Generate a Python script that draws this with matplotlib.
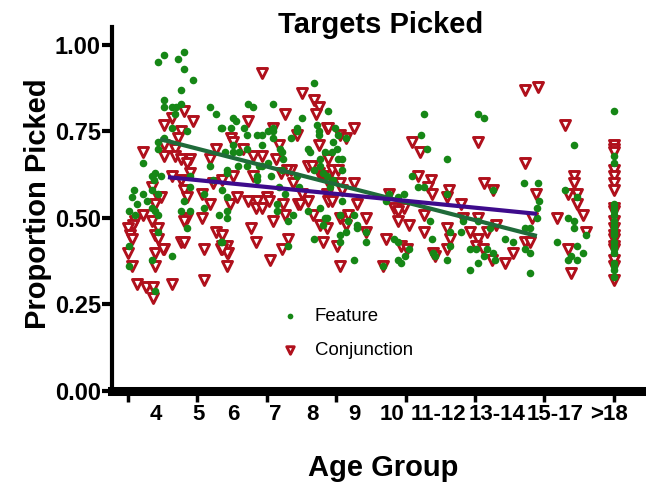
import matplotlib.pyplot as plt
import numpy as np

plt.rcParams['font.family'] = 'Liberation Sans'

# age (x, continuous) and proportion picked (y)
feat_age = [4.16, 4.01, 4.51, 4.66, 4.66, 4.89, 4.59, 4.16, 4.16, 4.36, 4.46, 4.59, 4.44, 4.36, 4.74,
            4.16, 4.01, 4.01, 3.63, 3.93, 3.86, 4.08, 3.91, 4.81, 4.81, 3.40, 3.35, 3.63, 3.73, 3.48,
            3.86, 4.01, 3.28, 3.43, 3.86, 3.93, 4.01, 4.66, 4.59, 4.81, 4.74, 4.01, 3.28, 3.86, 3.28,
            4.36, 3.93, 5.32, 5.47, 5.60, 5.32, 5.39, 5.17, 5.17, 5.54, 5.60,
            7.94, 6.91, 6.28, 6.40, 5.90, 5.97, 5.62, 5.85, 6.17, 6.91, 6.91, 6.50, 6.63, 6.25, 6.78,
            6.91, 7.51, 7.51, 7.36, 7.64, 8.02, 8.07, 8.07, 6.63, 5.90, 5.90, 5.70, 6.05, 6.25, 7.08,
            7.13, 7.79, 7.84, 7.16, 8.09, 8.22, 5.75, 5.75, 6.02, 6.25, 6.55, 6.63, 6.78, 7.13, 8.09,
            8.17, 6.50, 6.50, 6.86, 7.51, 7.56, 7.06, 7.21, 5.62, 5.75, 7.01, 7.01, 7.41, 7.28, 7.79,
            8.09, 8.22, 8.17, 5.75, 5.75, 7.94, 7.28, 5.62, 7.94, 8.27,
            8.29, 10.71, 10.64, 10.79, 8.47, 8.55, 8.75, 8.42, 8.52, 8.39, 8.55, 8.65, 8.65, 8.42, 8.34,
            8.65, 10.41, 10.56, 10.71, 9.83, 10.06, 10.21, 9.76, 8.60, 8.95, 8.80, 9.02, 9.02, 9.25, 9.25,
            8.75, 8.60, 8.60, 8.27, 9.96, 10.06, 10.34, 10.23, 10.06, 10.13, 8.95, 9.68, 10.86, 10.92, 10.94,
            12.07, 12.23, 11.29, 13.23, 13.59, 12.45, 11.29, 11.70, 12.07, 12.38, 11.65, 11.37, 11.37, 10.99,
            11.29, 11.87, 12.02, 12.30, 12.45, 12.23, 12.50, 12.07, 11.87, 12.76, 12.96, 13.26, 13.39, 13.26,
            13.39, 13.56, 13.56, 13.39,
            14.50, 14.27, 14.57, 13.61, 14.34, 14.50, 14.50, 14.80, 14.07, 14.57, 14.72, 14.42, 14.34, 14.57,
            15.5, 15.5, 15.5, 15.5, 15.5, 15.5, 15.5, 15.5, 15.5, 15.5, 15.5, 15.5, 15.5, 15.5, 15.5,
            15.5, 15.5, 15.5, 15.5, 15.5]
feat_prop = [0.97, 0.95, 0.96, 0.98, 0.93, 0.90, 0.87, 0.84, 0.82, 0.82, 0.82, 0.83, 0.80, 0.76, 0.75,
             0.73, 0.72, 0.70, 0.66, 0.63, 0.62, 0.62, 0.61, 0.62, 0.59, 0.58, 0.56, 0.57, 0.55, 0.54,
             0.58, 0.57, 0.52, 0.51, 0.53, 0.52, 0.51, 0.55, 0.52, 0.52, 0.47, 0.46, 0.42, 0.38, 0.36,
             0.39, 0.29, 0.82, 0.80, 0.76, 0.65, 0.61, 0.57, 0.53, 0.51, 0.43,
             0.89, 0.83, 0.83, 0.82, 0.79, 0.78, 0.76, 0.76, 0.76, 0.76, 0.75, 0.74, 0.74, 0.74, 0.75,
             0.73, 0.76, 0.75, 0.73, 0.79, 0.77, 0.75, 0.74, 0.71, 0.71, 0.69, 0.69, 0.69, 0.70, 0.70,
             0.69, 0.70, 0.69, 0.67, 0.67, 0.69, 0.64, 0.63, 0.65, 0.65, 0.65, 0.65, 0.66, 0.64, 0.65,
             0.63, 0.62, 0.61, 0.62, 0.62, 0.59, 0.59, 0.57, 0.58, 0.56, 0.54, 0.52, 0.51, 0.49, 0.52,
             0.53, 0.50, 0.48, 0.52, 0.50, 0.44, 0.42, 0.43, 0.64, 0.62,
             0.81, 0.80, 0.74, 0.70, 0.76, 0.74, 0.73, 0.72, 0.70, 0.69, 0.67, 0.67, 0.64, 0.61, 0.59,
             0.55, 0.62, 0.59, 0.59, 0.57, 0.56, 0.57, 0.55, 0.51, 0.51, 0.49, 0.48, 0.47, 0.46, 0.43,
             0.46, 0.45, 0.43, 0.50, 0.44, 0.43, 0.41, 0.39, 0.38, 0.37, 0.38, 0.36, 0.49, 0.44, 0.40,
             0.80, 0.79, 0.67, 0.60, 0.60, 0.58, 0.57, 0.49, 0.49, 0.47, 0.46, 0.46, 0.42, 0.39,
             0.38, 0.41, 0.41, 0.41, 0.40, 0.39, 0.38, 0.37, 0.35, 0.44, 0.43, 0.47, 0.47, 0.41,
             0.40, 0.53, 0.50, 0.34,
             0.71, 0.58, 0.56, 0.55, 0.50, 0.49, 0.47, 0.45, 0.43, 0.42, 0.40, 0.39, 0.38, 0.38,
             0.81, 0.68, 0.66, 0.54, 0.53, 0.52, 0.51, 0.49, 0.48, 0.47, 0.46, 0.45, 0.43, 0.42, 0.41,
             0.40, 0.37, 0.36, 0.35, 0.33]

conj_age = [4.66, 4.89, 4.16, 4.36, 4.59, 4.51, 4.16, 4.44, 4.16, 4.44, 4.59, 4.81, 4.74, 4.81, 3.63,
            5.47, 5.32, 4.36, 4.59, 4.66, 4.74, 3.86, 4.01, 4.08, 3.93, 3.63, 3.43, 3.38, 3.25, 3.30,
            3.86, 4.01, 3.93, 4.01, 4.59, 4.66, 4.16, 3.93, 3.25, 3.35, 3.93, 4.74, 4.66, 5.12, 5.17,
            5.39, 5.32, 5.47, 5.60, 3.48, 3.70, 3.88, 3.88, 4.36, 5.17, 5.12, 5.62, 3.35, 4.13, 5.62, 5.77,
            6.63, 7.64, 7.94, 8.07, 7.99, 7.21, 6.28, 6.91, 7.51, 8.27, 5.85, 5.90, 7.06, 8.07, 6.15,
            6.40, 6.63, 6.98, 7.79, 7.89, 7.36, 7.26, 8.07, 8.17, 6.40, 7.11, 5.90, 5.62, 7.41, 6.00,
            6.28, 6.50, 6.75, 5.82, 6.48, 6.63, 6.81, 7.54, 7.59, 7.79, 7.21, 6.91, 7.91, 8.09, 6.35,
            6.48, 7.28, 7.13, 8.17, 5.75, 5.75, 5.75, 6.83, 5.62, 7.16, 7.64, 8.27,
            8.29, 8.95, 8.60, 8.75, 10.41, 10.61, 8.29, 8.39, 8.55, 8.27, 8.60, 8.95, 8.65, 8.29, 8.39,
            10.56, 10.89, 10.81, 10.92, 9.83, 9.96, 10.21, 10.06, 9.02, 8.80, 8.60, 9.25, 10.06, 10.34,
            10.71, 10.71, 9.25, 8.75, 8.27, 9.76, 10.13, 10.28, 8.52, 8.60, 9.68, 10.94,
            13.26, 13.59, 12.07, 13.26, 11.34, 11.29, 12.23, 12.45, 11.65, 11.70, 12.07, 12.53, 11.29,
            11.37, 11.87, 12.07, 12.30, 12.02, 12.20, 12.43, 12.76, 12.96, 13.26, 13.39, 10.99, 11.29,
            13.54, 13.44,
            14.27, 14.50, 14.50, 14.34, 14.57, 14.57, 14.72, 14.07, 14.80, 14.34, 14.42,
            15.5, 15.5, 15.5, 15.5, 15.5, 15.5, 15.5, 15.5, 15.5, 15.5, 15.5, 15.5, 15.5, 15.5, 15.5,
            15.5, 15.5, 15.5]
conj_prop = [0.81, 0.78, 0.77, 0.79, 0.75, 0.73, 0.71, 0.70, 0.68, 0.68, 0.67, 0.67, 0.66, 0.63, 0.69,
             0.70, 0.67, 0.62, 0.61, 0.58, 0.56, 0.59, 0.56, 0.56, 0.54, 0.51, 0.49, 0.48, 0.47, 0.45,
             0.49, 0.47, 0.45, 0.44, 0.43, 0.43, 0.41, 0.40, 0.40, 0.36, 0.36, 0.50, 0.49, 0.50, 0.41,
             0.60, 0.54, 0.46, 0.41, 0.31, 0.30, 0.30, 0.27, 0.31, 0.32, 0.57, 0.45, 0.44, 0.41, 0.42, 0.40,
             0.92, 0.86, 0.84, 0.82, 0.80, 0.80, 0.78, 0.76, 0.74, 0.76, 0.73, 0.72, 0.71, 0.71, 0.70,
             0.68, 0.68, 0.67, 0.65, 0.65, 0.64, 0.64, 0.63, 0.62, 0.62, 0.63, 0.62, 0.61, 0.60, 0.56,
             0.55, 0.55, 0.56, 0.54, 0.53, 0.53, 0.55, 0.54, 0.54, 0.55, 0.51, 0.49, 0.51, 0.48, 0.47,
             0.43, 0.44, 0.41, 0.43, 0.42, 0.40, 0.36, 0.38, 0.41, 0.54, 0.57, 0.57,
             0.76, 0.76, 0.74, 0.73, 0.72, 0.69, 0.67, 0.64, 0.64, 0.61, 0.60, 0.60, 0.58, 0.55, 0.55,
             0.62, 0.61, 0.59, 0.57, 0.57, 0.53, 0.53, 0.52, 0.54, 0.51, 0.50, 0.50, 0.49, 0.48,
             0.51, 0.46, 0.46, 0.48, 0.47, 0.44, 0.42, 0.41, 0.42, 0.36, 0.36, 0.40,
             0.87, 0.88, 0.72, 0.66, 0.58, 0.56, 0.60, 0.58, 0.54, 0.50, 0.50, 0.48, 0.47,
             0.44, 0.46, 0.44, 0.46, 0.42, 0.41, 0.38, 0.37, 0.40, 0.43, 0.43, 0.39, 0.41,
             0.57, 0.50,
             0.77, 0.62, 0.60, 0.57, 0.57, 0.54, 0.51, 0.50, 0.46, 0.41, 0.34,
             0.71, 0.70, 0.69, 0.64, 0.62, 0.60, 0.58, 0.53, 0.52, 0.49, 0.47, 0.45, 0.44, 0.42, 0.41,
             0.38, 0.36, 0.32]

# linear fits as drawn
fit_age = [4.06, 13.56]
fit_feat = [0.728, 0.448]
fit_conj_age = [4.26, 13.56]
fit_conj = [0.618, 0.512]

group_labels = ['4', '5', '6', '7', '8', '9', '10', '11-12', '13-14', '15-17', '>18']
group_pos = [3.96, 5.04, 5.92, 6.96, 7.89, 8.95, 9.91, 11.09, 12.55, 14.02, 15.38]

green = '#168716'
red = '#b0101c'

fig = plt.figure(figsize=(6.46, 4.82), dpi=100)
ax = fig.add_axes([112/646, 1 - 391/482, 1 - 112/646, 364/482])

ax.scatter(conj_age, conj_prop, marker='v', s=52, facecolor='white', edgecolor=red,
           linewidth=2.1, label='Conjunction', zorder=2)
ax.scatter(feat_age, feat_prop, marker='o', s=30, color=green, linewidth=0,
           label='Feature', zorder=3)
ax.plot(fit_age, fit_feat, color='#1f6b3a', lw=3, zorder=4, solid_capstyle='butt')
ax.plot(fit_conj_age, fit_conj, color='#3e0b8c', lw=3, zorder=4, solid_capstyle='butt')

ax.set_xlim(2.85, 16.31)
ax.set_ylim(0, 1.052)

for s in ['top', 'right']:
    ax.spines[s].set_visible(False)
ax.spines['left'].set_linewidth(3)
ax.spines['bottom'].set_linewidth(6.5)

ax.set_yticks([0, 0.25, 0.5, 0.75, 1.0])
ax.set_yticklabels(['0.00', '0.25', '0.50', '0.75', '1.00'])
ax.tick_params(axis='y', length=7, width=3, pad=1, labelsize=17)
for t in ax.get_yticklabels():
    t.set_fontweight('bold')

ax.set_xticks(np.arange(3.25, 16, 1.75))
ax.set_xticklabels([])
ax.tick_params(axis='x', which='major', length=8, width=2.5)
ax.set_xticks(group_pos, minor=True)
ax.set_xticklabels(group_labels, minor=True, fontsize=16, fontweight='bold')
ax.tick_params(axis='x', which='minor', length=0, pad=9)

ax.set_ylabel('Proportion Picked', fontsize=21, fontweight='bold')
ax.yaxis.set_label_coords(-0.112, 0.514)
ax.set_xlabel('Age Group', fontsize=21, fontweight='bold', va='top')
ax.xaxis.set_label_coords(0.507, -0.172)
fig.text(381/646, 1 - 25/482, 'Targets Picked', fontsize=21, fontweight='bold',
         ha='center', va='center')

leg = ax.legend(handles=ax.collections[::-1], labels=['Feature', 'Conjunction'],
                loc='upper left', bbox_to_anchor=(0.298, 0.228), frameon=False,
                fontsize=13.4, borderaxespad=0, borderpad=0, handletextpad=0.35,
                labelspacing=0.92, markerscale=0.75)

fig.savefig('out.png', dpi=100)
